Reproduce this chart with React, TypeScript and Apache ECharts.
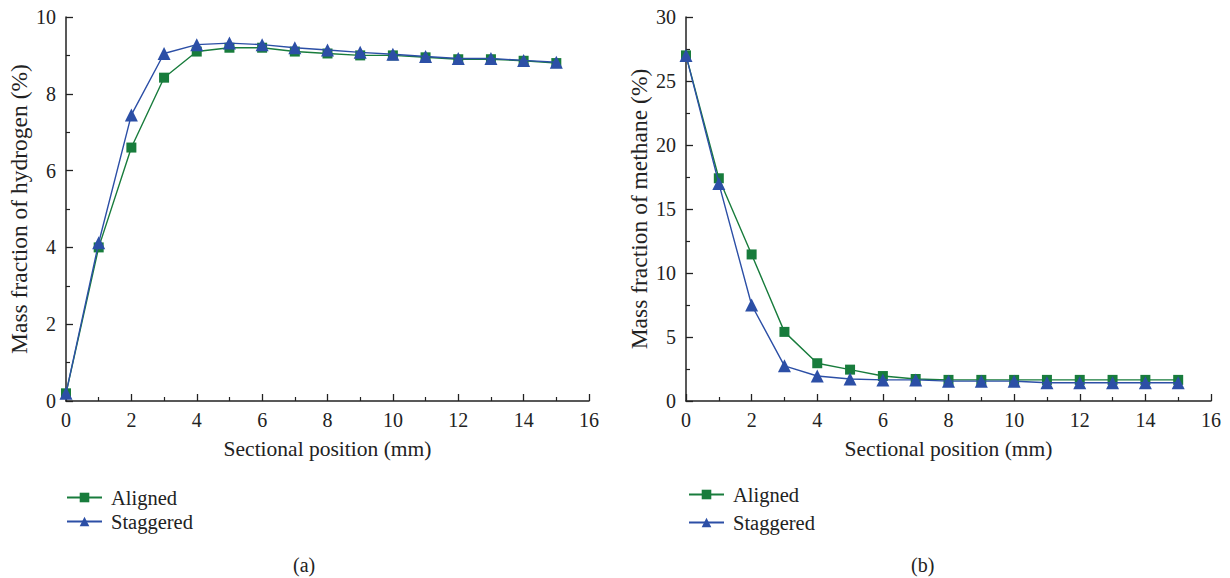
import React, { useEffect, useRef } from "react";
import * as echarts from "echarts";

const positions = [0, 1, 2, 3, 4, 5, 6, 7, 8, 9, 10, 11, 12, 13, 14, 15];
const hydrogenAligned = [0.2, 4.0, 6.6, 8.42, 9.1, 9.2, 9.2, 9.1, 9.05, 9.0, 9.0, 8.95, 8.9, 8.9, 8.86, 8.8];
const hydrogenStaggered = [0.2, 4.12, 7.45, 9.05, 9.28, 9.32, 9.28, 9.2, 9.14, 9.08, 9.03, 8.97, 8.92, 8.92, 8.87, 8.82];
const methaneAligned = [27.0, 17.4, 11.45, 5.4, 2.95, 2.45, 1.95, 1.72, 1.65, 1.65, 1.65, 1.65, 1.65, 1.65, 1.65, 1.65];
const methaneStaggered = [27.0, 17.0, 7.5, 2.75, 1.95, 1.72, 1.65, 1.65, 1.55, 1.55, 1.55, 1.42, 1.42, 1.42, 1.42, 1.42];
const seriesNames = ["Aligned", "Staggered"];
const captions = ["(a)", "(b)"];

const GREEN = "#187c3c";
const BLUE = "#2c4fa6";
const FONT = "Liberation Serif";

function pairs(ys: number[]) {
  return positions.map((x, i) => [x, ys[i]]);
}

export default function App() {
  const ref = useRef<HTMLDivElement>(null);
  useEffect(() => {
    if (!ref.current) return;
    const chart = echarts.init(ref.current, null, { renderer: "svg" });
    const xAxisBase = (gridIndex: number) => ({
      type: "value",
      gridIndex,
      min: 0,
      max: 16,
      interval: 2,
      name: "Sectional position (mm)",
      nameLocation: "middle",
      nameGap: 37,
      nameTextStyle: { fontFamily: FONT, fontSize: 21.5, color: "#222" },
      axisLine: { show: true, lineStyle: { color: "#222", width: 1.5 } },
      axisTick: { show: true, inside: true, length: 7, lineStyle: { color: "#222", width: 1.3 } },
      minorTick: { show: true, splitNumber: 2, length: 4, lineStyle: { color: "#222", width: 1.2 } },
      axisLabel: { fontFamily: FONT, fontSize: 20, color: "#222", margin: 9 },
      splitLine: { show: false },
    });
    const yAxisBase = (gridIndex: number, max: number, interval: number, name: string) => ({
      type: "value",
      gridIndex,
      min: 0,
      max,
      interval,
      name,
      nameLocation: "middle",
      nameGap: 35,
      nameTextStyle: { fontFamily: FONT, fontSize: 23.5, color: "#222" },
      axisLine: { show: true, lineStyle: { color: "#222", width: 1.5 } },
      axisTick: { show: true, inside: true, length: 7, lineStyle: { color: "#222", width: 1.3 } },
      minorTick: { show: true, splitNumber: 2, length: 4, lineStyle: { color: "#222", width: 1.2 } },
      axisLabel: { fontFamily: FONT, fontSize: 20, color: "#222", margin: 10 },
      splitLine: { show: false },
    });
    const mkSeries = (name: string, data: number[], idx: number, color: string, symbol: string, size: number) => ({
      name,
      type: "line",
      xAxisIndex: idx,
      yAxisIndex: idx,
      data: pairs(data),
      symbol,
      symbolSize: size,
      lineStyle: { color, width: 1.4 },
      itemStyle: { color },
      z: name === "Staggered" ? 3 : 2,
    });
    const legendText = { fontFamily: FONT, fontSize: 20.5, color: "#222", padding: [0, 0, 0, 4] };
    chart.setOption({
      animation: false,
      backgroundColor: "#ffffff",
      textStyle: { fontFamily: FONT },
      title: [
        { text: captions[0], left: 288, top: 550, textStyle: { fontFamily: FONT, fontSize: 20, fontWeight: "normal", color: "#222" } },
        { text: captions[1], left: 906, top: 550, textStyle: { fontFamily: FONT, fontSize: 20, fontWeight: "normal", color: "#222" } },
      ],
      legend: [
        {
          data: seriesNames,
          orient: "vertical",
          left: 61,
          top: 482,
          itemWidth: 35,
          itemHeight: 12,
          itemGap: 3,
          textStyle: legendText,
        },
        {
          data: seriesNames,
          orient: "vertical",
          left: 683,
          top: 479,
          itemWidth: 35,
          itemHeight: 12,
          itemGap: 7,
          textStyle: legendText,
        },
      ],
      grid: [
        { left: 66, top: 17, width: 523, height: 384 },
        { left: 686, top: 17, width: 525, height: 384 },
      ],
      xAxis: [xAxisBase(0), xAxisBase(1)],
      yAxis: [
        yAxisBase(0, 10, 2, "Mass fraction of hydrogen (%)"),
        yAxisBase(1, 30, 5, "Mass fraction of methane (%)"),
      ],
      series: [
        mkSeries(seriesNames[0], hydrogenAligned, 0, GREEN, "rect", 10),
        mkSeries(seriesNames[1], hydrogenStaggered, 0, BLUE, "triangle", 13),
        mkSeries(seriesNames[0], methaneAligned, 1, GREEN, "rect", 10),
        mkSeries(seriesNames[1], methaneStaggered, 1, BLUE, "triangle", 13),
      ],
    });
    return () => chart.dispose();
  }, []);
  return (
    <div
      ref={ref}
      style={{ position: "absolute", left: 0, top: 0, width: 1230, height: 578, background: "#fff" }}
    />
  );
}
